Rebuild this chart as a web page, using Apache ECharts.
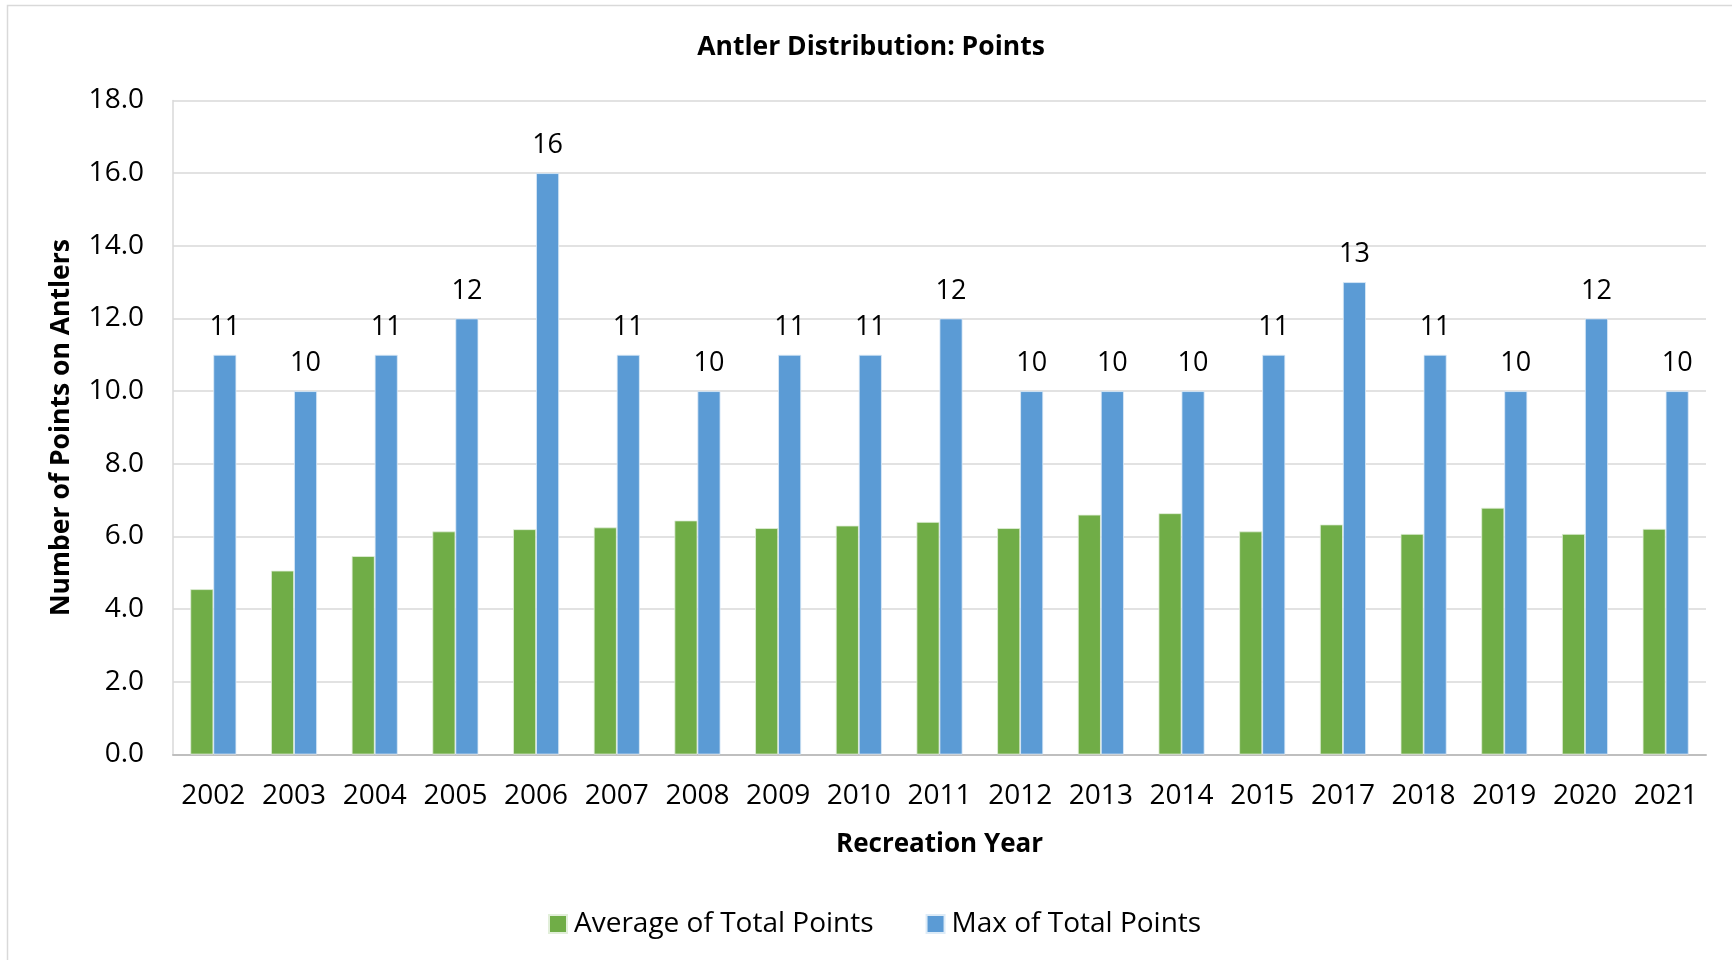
<!DOCTYPE html>
<html>
<head>
<meta charset="utf-8">
<script src="https://cdn.jsdelivr.net/npm/echarts@6/dist/echarts.min.js"></script>
<style>
  html, body { margin: 0; padding: 0; background: #fff; }
  #chart { width: 1732px; height: 960px; }
</style>
</head>
<body>
<div id="chart"></div>
<script>
const years = ['2002', '2003', '2004', '2005', '2006', '2007', '2008', '2009', '2010', '2011',
  '2012', '2013', '2014', '2015', '2017', '2018', '2019', '2020', '2021']
const avgPoints = [4.55, 5.06, 5.46, 6.14, 6.20, 6.25, 6.44, 6.23, 6.30, 6.40,
  6.23, 6.60, 6.64, 6.14, 6.33, 6.07, 6.79, 6.07, 6.21]
const maxPoints = [11, 10, 11, 12, 16, 11, 10, 11, 11, 12, 10, 10, 10, 11, 13, 11, 10, 12, 10]

const FONT = '"Open Sans", "Noto Sans", sans-serif'

const chart = echarts.init(document.getElementById('chart'))
chart.setOption({
  animation: false,
  backgroundColor: '#fff',
  textStyle: { fontFamily: FONT, color: '#000' },
  graphic: [{
    type: 'rect',
    shape: { x: 7.5, y: 5.5, width: 1740, height: 970 },
    style: { fill: 'none', stroke: '#d9d9d9', lineWidth: 1.5 },
    silent: true
  }],
  title: {
    text: 'Antler Distribution: Points',
    left: 866,
    textAlign: 'center',
    top: 29,
    textStyle: { fontFamily: FONT, fontSize: 26.5, fontWeight: 'bold', color: '#000' }
  },
  legend: {
    left: 543,
    top: 905,
    itemWidth: 18,
    itemHeight: 18,
    itemGap: 52,
    icon: 'rect',
    textStyle: { fontFamily: FONT, fontSize: 28, color: '#000', padding: [0, 0, 0, 2] },
    data: ['Average of Total Points', 'Max of Total Points']
  },
  grid: { left: 173, right: 26, top: 100.5, bottom: 205.5 },
  xAxis: {
    type: 'category',
    data: years,
    name: 'Recreation Year',
    nameLocation: 'middle',
    nameGap: 77,
    nameTextStyle: { fontFamily: FONT, fontSize: 26, fontWeight: 'bold', color: '#000' },
    axisLine: { lineStyle: { color: '#bfbfbf', width: 2 } },
    axisTick: { show: false },
    axisLabel: { fontFamily: FONT, fontSize: 28, color: '#000', margin: 28, interval: 0, hideOverlap: false }
  },
  yAxis: {
    type: 'value',
    min: 0,
    max: 18,
    interval: 2,
    name: 'Number of Points on Antlers',
    nameLocation: 'middle',
    nameGap: 98,
    nameTextStyle: { fontFamily: FONT, fontSize: 26.5, fontWeight: 'bold', color: '#000' },
    axisLine: { show: true, lineStyle: { color: '#d9d9d9', width: 1.5 } },
    axisTick: { show: false },
    axisLabel: {
      fontFamily: FONT, fontSize: 28, color: '#000', margin: 29,
      formatter: v => v.toFixed(1)
    },
    splitLine: { lineStyle: { color: '#d9d9d9', width: 1.5 } }
  },
  series: [
    {
      name: 'Average of Total Points',
      type: 'bar',
      data: avgPoints,
      barWidth: 23,
      barGap: '0%',
      itemStyle: { color: '#70ad47', borderColor: '#e2efda', borderWidth: 0.8 }
    },
    {
      name: 'Max of Total Points',
      type: 'bar',
      data: maxPoints,
      barWidth: 23,
      barGap: '0%',
      itemStyle: { color: '#5b9bd5', borderColor: '#ddebf7', borderWidth: 0.8 },
      label: {
        show: true,
        position: 'top',
        distance: 14,
        fontFamily: FONT,
        fontSize: 27,
        color: '#000'
      }
    }
  ]
})
</script>
</body>
</html>
